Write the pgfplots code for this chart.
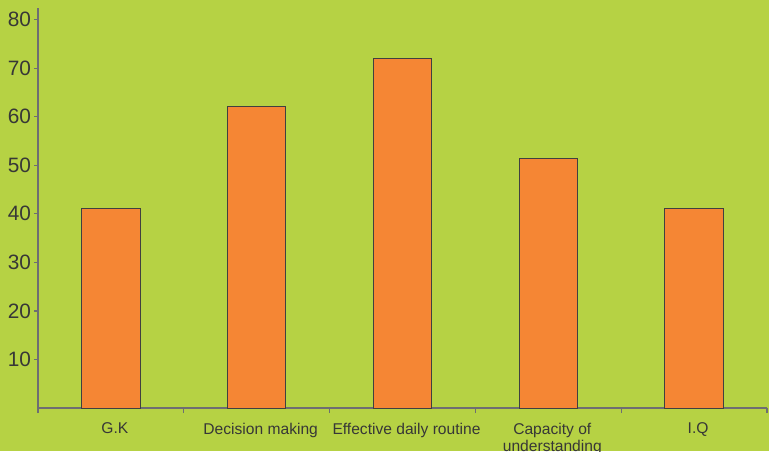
\documentclass[border=0pt]{standalone}
\usepackage{pgfplots}
\pgfplotsset{compat=1.18}
\usepackage{fontspec}
\setmainfont{Liberation Sans}
\definecolor{bggreen}{RGB}{182,210,68}
\definecolor{barorange}{RGB}{245,134,52}
\definecolor{axisgray}{RGB}{110,110,114}
\definecolor{txtgray}{RGB}{55,55,55}
\begin{document}
\begin{tikzpicture}
\fill[bggreen] (-19pt,-21.5pt) rectangle (365.5pt,204pt);
\useasboundingbox (-19pt,-21.5pt) rectangle (365.5pt,204pt);
\begin{axis}[
    width=364.5pt, height=200pt, scale only axis,
    xmin=-0.5, xmax=4.5, ymin=0, ymax=82.4,
    axis lines*=left,
    axis line style={axisgray, line width=0.6pt},
    tick align=outside,
    every tick/.style={axisgray, line width=0.6pt},
    ytick={10,20,...,80},
    major tick length=2pt,
    minor tick length=2.5pt,
    xtick={0,1,2,3,4},
    major x tick style={draw=none},
    minor xtick={-0.5,0.5,1.5,2.5,3.5,4.5},
    xticklabels={G.K, Decision making, Effective daily routine, Capacity of\\understanding, I.Q},
    xticklabel style={font=\fontsize{7.8}{8.5}\selectfont, text=txtgray, align=center, yshift=-2pt, xshift=2pt},
    yticklabel style={font=\fontsize{10.4}{12}\selectfont, text=txtgray, xshift=2pt},
    /pgf/number format/assume math mode=true,
]
\addplot[ybar, bar width=0.4, fill=barorange, draw=black!75, line width=0.5pt]
    coordinates {(0,41.2) (1,62.1) (2,72.0) (3,51.4) (4,41.2)};
\end{axis}
\end{tikzpicture}
\end{document}
